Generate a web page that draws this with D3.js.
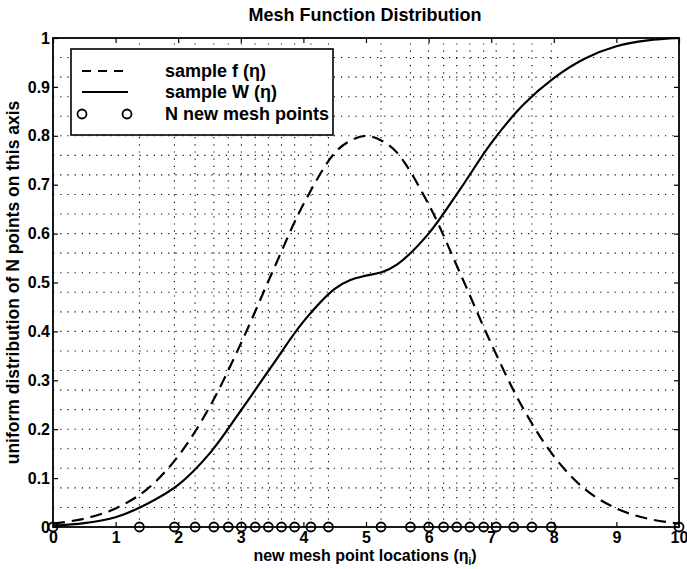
<!DOCTYPE html>
<html lang="en">
<head>
  <meta charset="UTF-8">
  <title>Mesh Function Distribution</title>
  <script src="https://d3js.org/d3.v7.min.js"></script>
  <style>
    body { margin: 0; background: #fff; }
    svg { display: block; font-family: "Liberation Sans", Arial, sans-serif; }
    .tick text { font-size: 16px; font-weight: bold; fill: #000; }
    .tick line { stroke: #000; stroke-width: 1.2px; }
    .grid { stroke: #000; stroke-width: 1.1px; stroke-dasharray: 1.2,6; fill: none; }
  </style>
</head>
<body>
  <svg width="687" height="569"></svg>

  <script>
    // curve samples
    const etaSamples = [0, 0.5, 1, 1.5, 2, 2.5, 3, 3.5, 4, 4.5, 4.75, 5, 5.25, 5.5, 6, 6.5, 7, 7.5, 8, 8.5, 9, 9.5, 10];
    const fSamples   = [0.007, 0.017, 0.038, 0.077, 0.145, 0.245, 0.375, 0.52, 0.66, 0.765, 0.79, 0.80, 0.79, 0.765, 0.66, 0.52, 0.375, 0.245, 0.145, 0.077, 0.038, 0.017, 0.007];
    const wSamples   = [0.003, 0.008, 0.02, 0.047, 0.086, 0.15, 0.238, 0.33, 0.42, 0.487, 0.505, 0.514, 0.521, 0.537, 0.60, 0.69, 0.785, 0.862, 0.918, 0.958, 0.983, 0.995, 1.0];

    // new mesh point locations (circles / vertical grid)
    const meshPoints = [0, 1.38, 1.94, 2.27, 2.57, 2.80, 3.01, 3.23, 3.44, 3.65, 3.86, 4.12, 4.40,
                        5.24, 5.71, 6.00, 6.24, 6.45, 6.66, 6.88, 7.08, 7.36, 7.65, 7.96, 10];
    // uniform distribution on the y axis (horizontal grid)
    const uniformY = [0.04, 0.08, 0.12, 0.16, 0.20, 0.24, 0.28, 0.32, 0.36, 0.40, 0.44, 0.48,
                      0.52, 0.56, 0.60, 0.64, 0.68, 0.72, 0.76, 0.80, 0.84, 0.88, 0.92, 0.96];

    const xTicks = [0, 1, 2, 3, 4, 5, 6, 7, 8, 9, 10];
    const yTicks = [0, 0.1, 0.2, 0.3, 0.4, 0.5, 0.6, 0.7, 0.8, 0.9, 1];

    const margin = { top: 38, right: 8, bottom: 42, left: 53 };
    const width = 687, height = 569;

    const svg = d3.select('svg');

    const x = d3.scaleLinear().domain([0, 10]).range([margin.left, width - margin.right]);
    const y = d3.scaleLinear().domain([0, 1]).range([height - margin.bottom, margin.top]);

    // dotted grid
    svg.append('g').selectAll('line').data(uniformY).join('line')
      .attr('class', 'grid')
      .attr('x1', x(0)).attr('x2', x(10))
      .attr('y1', d => y(d)).attr('y2', d => y(d));

    svg.append('g').selectAll('line').data(meshPoints.filter(d => d > 0 && d < 10)).join('line')
      .attr('class', 'grid')
      .attr('x1', d => x(d)).attr('x2', d => x(d))
      .attr('y1', y(0)).attr('y2', y(1));

    // axes with inward ticks on all sides
    const fmt = d => d3.format('')(d);
    svg.append('g').attr('transform', `translate(0,${y(0)})`)
      .call(d3.axisBottom(x).tickValues(xTicks).tickFormat(fmt).tickSizeInner(-5).tickSizeOuter(0).tickPadding(5))
      .call(g => g.select('.domain').remove());
    svg.append('g').attr('transform', `translate(0,${y(1)})`)
      .call(d3.axisTop(x).tickValues(xTicks).tickFormat('').tickSizeInner(-5).tickSizeOuter(0))
      .call(g => g.select('.domain').remove());
    svg.append('g').attr('transform', `translate(${x(0)},0)`)
      .call(d3.axisLeft(y).tickValues(yTicks).tickFormat(fmt).tickSizeInner(-5).tickSizeOuter(0).tickPadding(3))
      .call(g => g.select('.domain').remove());
    svg.append('g').attr('transform', `translate(${x(10)},0)`)
      .call(d3.axisRight(y).tickValues(yTicks).tickFormat('').tickSizeInner(-5).tickSizeOuter(0))
      .call(g => g.select('.domain').remove());

    // curves
    const fData = etaSamples.map((e, i) => ({ x: e, y: fSamples[i] }));
    const wData = etaSamples.map((e, i) => ({ x: e, y: wSamples[i] }));
    const line = d3.line().x(d => x(d.x)).y(d => y(d.y)).curve(d3.curveCatmullRom);

    svg.append('path').datum(fData).attr('d', line)
      .attr('fill', 'none').attr('stroke', '#000').attr('stroke-width', 2.2)
      .attr('stroke-dasharray', '12,7');
    svg.append('path').datum(wData).attr('d', line)
      .attr('fill', 'none').attr('stroke', '#000').attr('stroke-width', 2.2);

    // mesh point circles
    svg.append('g').selectAll('circle').data(meshPoints).join('circle')
      .attr('cx', d => x(d)).attr('cy', y(0)).attr('r', 4.5)
      .attr('fill', 'none').attr('stroke', '#000').attr('stroke-width', 1.8);

    // axes box
    svg.append('rect')
      .attr('x', x(0)).attr('y', y(1))
      .attr('width', x(10) - x(0)).attr('height', y(0) - y(1))
      .attr('fill', 'none').attr('stroke', '#000').attr('stroke-width', 1.8);

    // legend
    const lg = svg.append('g');
    lg.append('rect').attr('x', 71).attr('y', 49).attr('width', 262).attr('height', 86)
      .attr('fill', '#fff').attr('stroke', '#000').attr('stroke-width', 1.6);
    const legendRows = [
      { label: 'sample f (η)', kind: 'dash', yy: 71 },
      { label: 'sample W (η)', kind: 'solid', yy: 92 },
      { label: 'N new mesh points', kind: 'circle', yy: 114 }
    ];
    legendRows.forEach(r => {
      if (r.kind === 'circle') {
        [82, 127].forEach(cx => lg.append('circle').attr('cx', cx).attr('cy', r.yy).attr('r', 4.5)
          .attr('fill', 'none').attr('stroke', '#000').attr('stroke-width', 1.8));
      } else {
        lg.append('line').attr('x1', 82).attr('x2', 128).attr('y1', r.yy).attr('y2', r.yy)
          .attr('stroke', '#000').attr('stroke-width', 2.2)
          .attr('stroke-dasharray', r.kind === 'dash' ? '9,7' : null);
      }
      lg.append('text').attr('x', 165).attr('y', r.yy + 6)
        .attr('font-size', 18).attr('font-weight', 'bold').text(r.label);
    });

    // title and axis labels
    svg.append('text').attr('x', 365).attr('y', 21).attr('text-anchor', 'middle')
      .attr('font-size', 18).attr('font-weight', 'bold').text('Mesh Function Distribution');

    const xl = svg.append('text').attr('x', 365).attr('y', 561).attr('text-anchor', 'middle')
      .attr('font-size', 16).attr('font-weight', 'bold');
    xl.append('tspan').text('new mesh point locations (η');
    xl.append('tspan').attr('font-size', 10).attr('dy', 4).text('i');
    xl.append('tspan').attr('dy', -4).text(')');

    svg.append('text')
      .attr('transform', `translate(19,${(y(0) + y(1)) / 2}) rotate(-90)`)
      .attr('text-anchor', 'middle').attr('font-size', 17.5).attr('font-weight', 'bold')
      .text('uniform distribution of N points on this axis');
  </script>
</body>
</html>
